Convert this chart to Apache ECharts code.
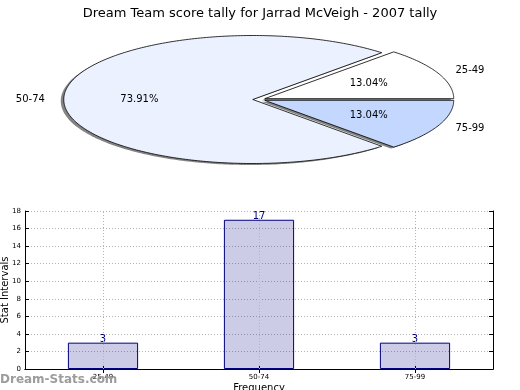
<!DOCTYPE html>
<html>
<head>
<meta charset="utf-8">
<script src="https://cdn.jsdelivr.net/npm/echarts@6/dist/echarts.min.js"></script>
<style>
html,body{margin:0;padding:0;background:#fff;}
#chart{width:520px;height:390px;}
</style>
</head>
<body>
<div id="chart"></div>
<script>
// ---- data ----
const titleText = 'Dream Team score tally for Jarrad McVeigh - 2007 tally';
const categories = ['25-49', '50-74', '75-99'];
const counts = [3, 17, 3];
const yMax = 18;
const yStep = 2;
const yAxisName = 'Stat Intervals';
const xAxisName = 'Frequency';
const watermark = 'Dream-Stats.com';

// ---- styles ----
const FONT = 'DejaVu Sans';
const sliceColors = ['#ffffff', '#ebf1fe', '#c4d8ff'];
const PIE = { cx: 259, cy: 99.5, rx: 189, ry: 64, explode: 0.033, shadowDx: -3, shadowDy: 1.5 };

const total = counts.reduce((a, b) => a + b, 0);
const cum = [];
counts.reduce((acc, v, i) => { cum[i] = acc; return acc + v; }, 0);

function renderSlice(params, api) {
  const i = params.dataIndex;
  const v = api.value(0);
  const a0 = cum[i] / total * Math.PI * 2;
  const a1 = (cum[i] + v) / total * Math.PI * 2;
  const mid = (a0 + a1) / 2;
  const cx = PIE.cx + PIE.explode * PIE.rx * Math.cos(mid);
  const cy = PIE.cy - PIE.explode * PIE.ry * Math.sin(mid);
  const pts = [[cx, cy]];
  const n = Math.max(8, Math.ceil((a1 - a0) * 60));
  for (let k = 0; k <= n; k++) {
    const a = a0 + (a1 - a0) * k / n;
    pts.push([cx + PIE.rx * Math.cos(a), cy - PIE.ry * Math.sin(a)]);
  }
  const sh = pts.map(p => [p[0] + PIE.shadowDx, p[1] + PIE.shadowDy]);
  const lx = cx + 1.1 * PIE.rx * Math.cos(mid);
  const ly = cy - 1.1 * PIE.ry * Math.sin(mid);
  const px = cx + 0.6 * PIE.rx * Math.cos(mid);
  const py = cy - 0.6 * PIE.ry * Math.sin(mid);
  return {
    type: 'group',
    children: [
      { type: 'polygon', z2: 1, shape: { points: sh }, style: { fill: 'rgba(90,90,90,0.75)', stroke: null } },
      { type: 'polygon', z2: 10, shape: { points: pts }, style: { fill: sliceColors[i], stroke: '#000', lineWidth: 0.8 } },
      { type: 'text', z2: 20, style: { x: lx, y: ly, text: categories[i], fill: '#000', font: '10px "' + FONT + '"', textAlign: Math.cos(mid) >= 0 ? 'left' : 'right', textVerticalAlign: 'middle' } },
      { type: 'text', z2: 20, style: { x: px, y: py, text: (v / total * 100).toFixed(2) + '%', fill: '#000', font: '10px "' + FONT + '"', textAlign: 'center', textVerticalAlign: 'middle' } }
    ]
  };
}

const gridLine = { show: true, lineStyle: { color: '#b4b4b4', type: [1, 2], width: 1 } };
const frameLine = { show: true, lineStyle: { color: '#000', width: 1 } };
const tickStyle = { show: true, inside: true, length: 4, lineStyle: { color: '#000' } };

const chart = echarts.init(document.getElementById('chart'), null, { renderer: 'canvas' });
chart.setOption({
  animation: false,
  textStyle: { fontFamily: FONT },
  title: {
    text: titleText, left: 'center', top: 2,
    textStyle: { fontFamily: FONT, fontSize: 13, fontWeight: 'normal', color: '#000' }
  },
  grid: { left: 25, right: 27, top: 211, bottom: 21, containLabel: false, outerBoundsMode: 'none' },
  xAxis: [
    {
      type: 'category', data: categories, position: 'bottom',
      name: xAxisName, nameLocation: 'middle', nameGap: 14, nameMoveOverlap: false,
      nameTextStyle: { fontFamily: FONT, fontSize: 10, color: '#000' },
      axisLine: frameLine, axisTick: Object.assign({ alignWithLabel: true }, tickStyle),
      axisLabel: { fontFamily: FONT, fontSize: 7, color: '#000', margin: 5 },
      splitLine: { show: false }
    },
    {
      type: 'category', data: categories, position: 'top',
      axisLine: frameLine, axisTick: Object.assign({ alignWithLabel: true }, tickStyle),
      axisLabel: { show: false }, splitLine: { show: false }
    }
  ],
  yAxis: [
    {
      type: 'value', min: 0, max: yMax, interval: yStep, position: 'left',
      name: yAxisName, nameLocation: 'middle', nameGap: 15, nameMoveOverlap: false,
      nameTextStyle: { fontFamily: FONT, fontSize: 10, color: '#000' },
      axisLine: frameLine, axisTick: tickStyle,
      axisLabel: { fontFamily: FONT, fontSize: 7, color: '#000', margin: 4 },
      splitLine: gridLine
    },
    {
      type: 'value', min: 0, max: yMax, interval: yStep, position: 'right',
      axisLine: frameLine, axisTick: tickStyle,
      axisLabel: { show: false }, splitLine: { show: false }
    }
  ],
  graphic: [
    {
      type: 'text', left: 0, top: 374, z: 1,
      style: { text: watermark, fill: '#9c9c9c', font: 'bold 12px "' + FONT + '"' }
    }
  ],
  series: [
    {
      type: 'custom', coordinateSystem: 'none',
      renderItem: renderSlice,
      data: counts.map(v => [v]),
      silent: true
    },
    {
      type: 'bar', xAxisIndex: 0, yAxisIndex: 0,
      data: counts, barWidth: '45%',
      itemStyle: { color: 'rgba(0,0,128,0.2)', borderColor: '#000080', borderWidth: 1 },
      label: { show: true, position: 'top', distance: -2, fontFamily: FONT, fontSize: 10, color: '#000080' },
      markLine: {
        silent: true, symbol: 'none', label: { show: false },
        lineStyle: { color: '#b4b4b4', type: [1, 2], width: 1 },
        data: categories.map(c => ({ xAxis: c }))
      }
    }
  ]
});
</script>
</body>
</html>
